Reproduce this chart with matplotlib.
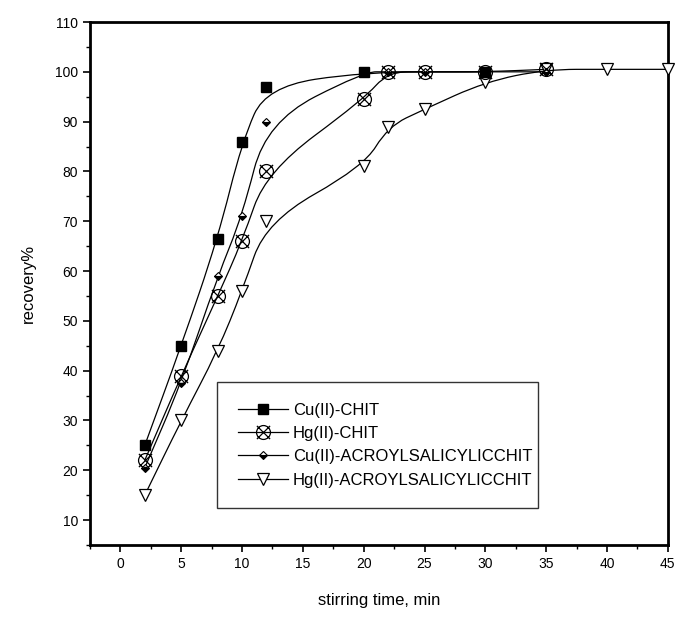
import matplotlib
matplotlib.use("Agg")
import matplotlib.pyplot as plt
import numpy as np
from matplotlib.path import Path
from matplotlib.patches import PathPatch
from matplotlib.lines import Line2D
from matplotlib.ticker import MultipleLocator

plt.rcParams['font.family'] = ['Liberation Sans', 'DejaVu Sans']

# ---- data ----
labels = ["Cu(II)-CHIT", "Hg(II)-CHIT", "Cu(II)-ACROYLSALICYLICCHIT", "Hg(II)-ACROYLSALICYLICCHIT"]
cu_chit_x = [2, 5, 8, 10, 12, 20, 30]
cu_chit_y = [25, 45, 66.5, 86, 97, 100, 100]
hg_chit_x = [2, 5, 8, 10, 12, 20, 22, 25, 30, 35]
hg_chit_y = [22, 39, 55, 66, 80, 94.5, 100, 100, 100, 100.5]
cu_acr_x = [2, 5, 8, 10, 12, 20, 22, 25, 30, 35]
cu_acr_y = [20.5, 37.5, 59, 71, 90, 100, 100, 100, 100, 100]
hg_acr_x = [2, 5, 8, 10, 12, 20, 22, 25, 30, 35, 40, 45]
hg_acr_y = [15, 30, 44, 56, 70, 81, 89, 92.5, 98, 100.5, 100.5, 100.5]
xticks = [0, 5, 10, 15, 20, 25, 30, 35, 40, 45]
yticks = [10, 20, 30, 40, 50, 60, 70, 80, 90, 100, 110]


def bspline_path(xs, ys):
    P = np.column_stack([xs, ys]).astype(float)
    n = len(P)
    verts = [P[0], (P[0] + P[1]) / 2]
    codes = [Path.MOVETO, Path.LINETO]
    for i in range(1, n - 1):
        verts += [P[i], (P[i] + P[i + 1]) / 2]
        codes += [Path.CURVE3, Path.CURVE3]
    verts.append(P[-1])
    codes.append(Path.LINETO)
    return Path(verts, codes)


circ = Path.unit_circle()
xpath = Path([[-0.95, -0.95], [0.95, 0.95], [-0.95, 0.95], [0.95, -0.95]],
             [Path.MOVETO, Path.LINETO, Path.MOVETO, Path.LINETO])
cross_circle = Path.make_compound_path(circ, xpath)

styles = [
    dict(marker='s', markersize=7.5, markerfacecolor='black', markeredgecolor='black'),
    dict(marker=cross_circle, markersize=10, markerfacecolor='none', markeredgecolor='black', markeredgewidth=0.9),
    dict(marker='D', markersize=4, markerfacecolor='black', markeredgecolor='black', fillstyle='bottom',
         markerfacecoloralt='white', markeredgewidth=0.8),
    dict(marker='v', markersize=8, markerfacecolor='white', markeredgecolor='black', markeredgewidth=0.9),
]
series = [(cu_chit_x, cu_chit_y), (hg_chit_x, hg_chit_y), (cu_acr_x, cu_acr_y), (hg_acr_x, hg_acr_y)]

fig = plt.figure(figsize=(6.8, 6.17), dpi=100)
ax = fig.add_axes([0.1324, 0.1167, 0.8496, 0.8476])

for (xs, ys), st in zip(series, styles):
    ax.add_patch(PathPatch(bspline_path(xs, ys), facecolor='none', edgecolor='black', lw=0.9, zorder=2))
for (xs, ys), st in zip(series[::-1], styles[::-1]):
    ax.plot(xs, ys, linestyle='none', zorder=3, clip_on=False, **st)

ax.set_xlim(-2.5, 45)
ax.set_ylim(5, 110)
ax.set_xticks(xticks)
ax.set_yticks(yticks)
ax.xaxis.set_minor_locator(MultipleLocator(2.5))
ax.yaxis.set_minor_locator(MultipleLocator(5))
ax.tick_params(which='major', direction='out', length=5, width=1.2, labelsize=10)
ax.tick_params(which='minor', direction='out', length=3, width=1.0)
for s in ax.spines.values():
    s.set_linewidth(2)
ax.set_xlabel("stirring time, min", fontsize=12, labelpad=16)
ax.set_ylabel("recovery%", fontsize=12, labelpad=14)

handles = [Line2D([0], [0], color='black', lw=0.9, **st) for st in styles]
leg = ax.legend(handles, labels, loc='lower left', bbox_to_anchor=(0.22, 0.07, 0.555, 0.253),
                mode='expand', frameon=True, fancybox=False, fontsize=12, handlelength=3.0,
                borderaxespad=0, labelspacing=0.5, handletextpad=0.3, borderpad=1.25)
leg.get_frame().set_edgecolor('black')
leg.get_frame().set_linewidth(1.0)

fig.savefig("out.png", dpi=100)
